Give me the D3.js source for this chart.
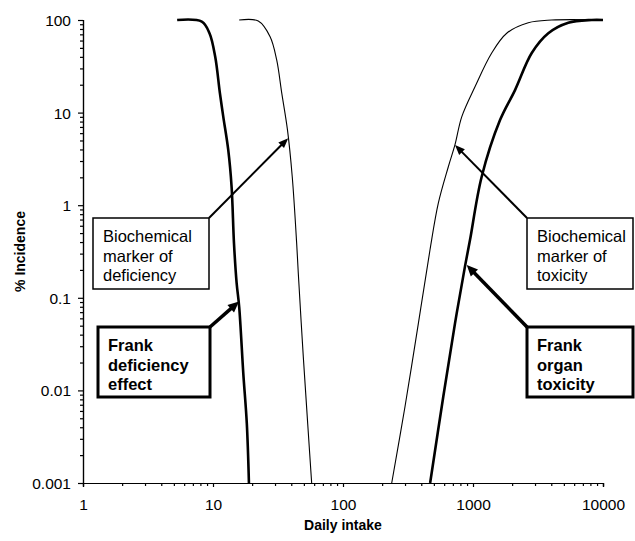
<!DOCTYPE html>
<html>
<head>
<meta charset="utf-8">
<script src="https://cdn.jsdelivr.net/npm/d3@7"></script>
<style>
  html, body { margin: 0; padding: 0; background: #fff; }
  svg { display: block; font-family: "Liberation Sans", Arial, sans-serif; }
</style>
</head>
<body>
<svg id="chart" width="635" height="541"></svg>
<script>
// Daily intake (x) and % incidence (y) for each dose-response curve
const frankDeficiencyIntake = [5.3, 8.2, 9.4, 10.4, 11.3, 12.0, 13.1, 13.9, 14.5, 15.2, 15.9, 17.1, 18.2, 18.9];
const frankDeficiencyIncidence = [100, 96, 72, 40, 16.2, 9.0, 3.95, 1.58, 0.39, 0.144, 0.08, 0.0153, 0.0044, 0.001];

const markerDeficiencyIntake = [15.9, 22.3, 27.5, 30.9, 33.8, 37.4, 40.7, 44.0, 45.3, 49.5, 53.5, 57.4];
const markerDeficiencyIncidence = [100, 97.5, 66, 37, 16.2, 6.5, 2.03, 0.39, 0.184, 0.023, 0.0044, 0.001];

const markerToxicityIntake = [237, 300, 380, 467, 541, 646, 727, 819, 1036, 1393, 1817, 2662, 4027, 10000];
const markerToxicityIncidence = [0.001, 0.0067, 0.053, 0.33, 1.05, 2.6, 4.5, 9.0, 19, 44, 72, 93.5, 100, 100];

const frankToxicityIntake = [468, 591, 727, 867, 948, 1166, 1614, 2105, 2830, 3795, 5408, 8184, 10000];
const frankToxicityIncidence = [0.001, 0.0086, 0.053, 0.217, 0.42, 2.03, 8.3, 17.5, 44, 72, 93.5, 100, 100];

// Axis tick labels
const xTickValues = [1, 10, 100, 1000, 10000];
const xTickLabels = ["1", "10", "100", "1000", "10000"];
const yTickValues = [0.001, 0.01, 0.1, 1, 10, 100];
const yTickLabels = ["0.001", "0.01", "0.1", "1", "10", "100"];

// Annotation texts and the point on the curve each arrow points to
const annotationLines = [
  ["Biochemical", "marker of", "deficiency"],
  ["Frank", "deficiency", "effect"],
  ["Biochemical", "marker of", "toxicity"],
  ["Frank", "organ", "toxicity"]
];
const annotationTargets = [[37.9, 5.3], [15.85, 0.091], [727, 4.47], [895, 0.226]];

const svg = d3.select("#chart");
const plotLeft = 83, plotRight = 603, plotTop = 20, plotBottom = 483;

const x = d3.scaleLog().domain([1, 10000]).range([plotLeft, plotRight]);
const y = d3.scaleLog().domain([0.001, 100]).range([plotBottom, plotTop]);

// Axes: major ticks per decade plus minor ticks
const minorX = [], minorY = [];
for (let e = 0; e < 4; e++) for (let m = 2; m <= 9; m++) minorX.push(m * Math.pow(10, e));
for (let e = -3; e < 2; e++) for (let m = 2; m <= 9; m++) minorY.push(m * Math.pow(10, e));

const xAxis = svg.append("g").attr("transform", `translate(0,${plotBottom})`);
xAxis.call(d3.axisBottom(x).tickValues(minorX).tickSize(3).tickFormat(""));
xAxis.append("g").call(d3.axisBottom(x).tickValues(xTickValues).tickSize(4)
  .tickFormat((d, i) => xTickLabels[i]));
xAxis.selectAll(".domain").attr("stroke", "#000").attr("stroke-width", 1.2);
xAxis.selectAll(".tick line").attr("stroke", "#000").attr("stroke-width", 1.2);
xAxis.selectAll(".tick text").attr("font-size", 15.5).attr("fill", "#000")
  .attr("dy", 0).attr("y", 27).attr("font-family", "Liberation Sans, Arial, sans-serif");

const yAxis = svg.append("g").attr("transform", `translate(${plotLeft},0)`);
yAxis.call(d3.axisLeft(y).tickValues(minorY).tickSize(3).tickFormat(""));
yAxis.append("g").call(d3.axisLeft(y).tickValues(yTickValues).tickSize(5)
  .tickFormat((d, i) => yTickLabels[i]));
yAxis.selectAll(".domain").attr("stroke", "#000").attr("stroke-width", 1.2);
yAxis.selectAll(".tick line").attr("stroke", "#000").attr("stroke-width", 1.2);
yAxis.selectAll(".tick text").attr("font-size", 15.5).attr("fill", "#000")
  .attr("x", -12).attr("dy", "0.35em").attr("font-family", "Liberation Sans, Arial, sans-serif");
svg.selectAll(".domain").attr("fill", "none");

// Axis titles
svg.append("text").attr("x", (plotLeft + plotRight) / 2).attr("y", 530)
  .attr("text-anchor", "middle").attr("font-size", 14).attr("font-weight", "bold")
  .text("Daily intake");
svg.append("text").attr("transform", `translate(25,${(plotTop + plotBottom) / 2}) rotate(-90)`)
  .attr("text-anchor", "middle").attr("font-size", 14).attr("font-weight", "bold")
  .text("% Incidence");

// Curves
const curve = d3.line().x(d => x(d[0])).y(d => y(d[1])).curve(d3.curveCatmullRom.alpha(0.5));
const series = [
  { xs: frankDeficiencyIntake, ys: frankDeficiencyIncidence, w: 2.6 },
  { xs: markerDeficiencyIntake, ys: markerDeficiencyIncidence, w: 1.1 },
  { xs: markerToxicityIntake, ys: markerToxicityIncidence, w: 1.1 },
  { xs: frankToxicityIntake, ys: frankToxicityIncidence, w: 2.6 }
];
series.forEach(s => {
  svg.append("path").datum(s.xs.map((v, i) => [v, s.ys[i]]))
    .attr("d", curve).attr("fill", "none").attr("stroke", "#000")
    .attr("stroke-width", s.w).attr("stroke-linejoin", "round");
});

// Annotation boxes with arrows
const boxes = [
  { x0: 93, y0: 218, x1: 209, y1: 289, bold: false, bw: 1.5, corner: [209, 218] },
  { x0: 98, y0: 327, x1: 210, y1: 397, bold: true, bw: 3, corner: [210, 327] },
  { x0: 527, y0: 218, x1: 633, y1: 289, bold: false, bw: 1.5, corner: [527, 218] },
  { x0: 527, y0: 327, x1: 633, y1: 397, bold: true, bw: 3, corner: [527, 327] }
];

function arrow(from, to, width, headLen, headW) {
  const dx = to[0] - from[0], dy = to[1] - from[1];
  const len = Math.hypot(dx, dy);
  const ux = dx / len, uy = dy / len;
  const bx = to[0] - ux * headLen, by = to[1] - uy * headLen;
  svg.append("line").attr("x1", from[0]).attr("y1", from[1])
    .attr("x2", bx + ux * 1).attr("y2", by + uy * 1)
    .attr("stroke", "#000").attr("stroke-width", width);
  const px = -uy, py = ux;
  svg.append("path")
    .attr("d", `M${to[0]},${to[1]}L${bx + px * headW / 2},${by + py * headW / 2}L${bx - px * headW / 2},${by - py * headW / 2}Z`)
    .attr("fill", "#000");
}

boxes.forEach((b, i) => {
  svg.append("rect").attr("x", b.x0).attr("y", b.y0)
    .attr("width", b.x1 - b.x0).attr("height", b.y1 - b.y0)
    .attr("fill", "#fff").attr("stroke", "#000").attr("stroke-width", b.bw);
  const t = svg.append("text").attr("font-size", 16.5)
    .attr("font-weight", b.bold ? "bold" : "normal");
  const tx = b.x0 + 10;
  annotationLines[i].forEach((s, k) => {
    t.append("tspan").attr("x", tx).attr("y", b.y0 + 24 + k * 19.5).text(s);
  });
  const tgt = annotationTargets[i];
  arrow(b.corner, [x(tgt[0]), y(tgt[1])], b.bold ? 3.5 : 2, b.bold ? 11 : 10, b.bold ? 10 : 8);
});
</script>
</body>
</html>
